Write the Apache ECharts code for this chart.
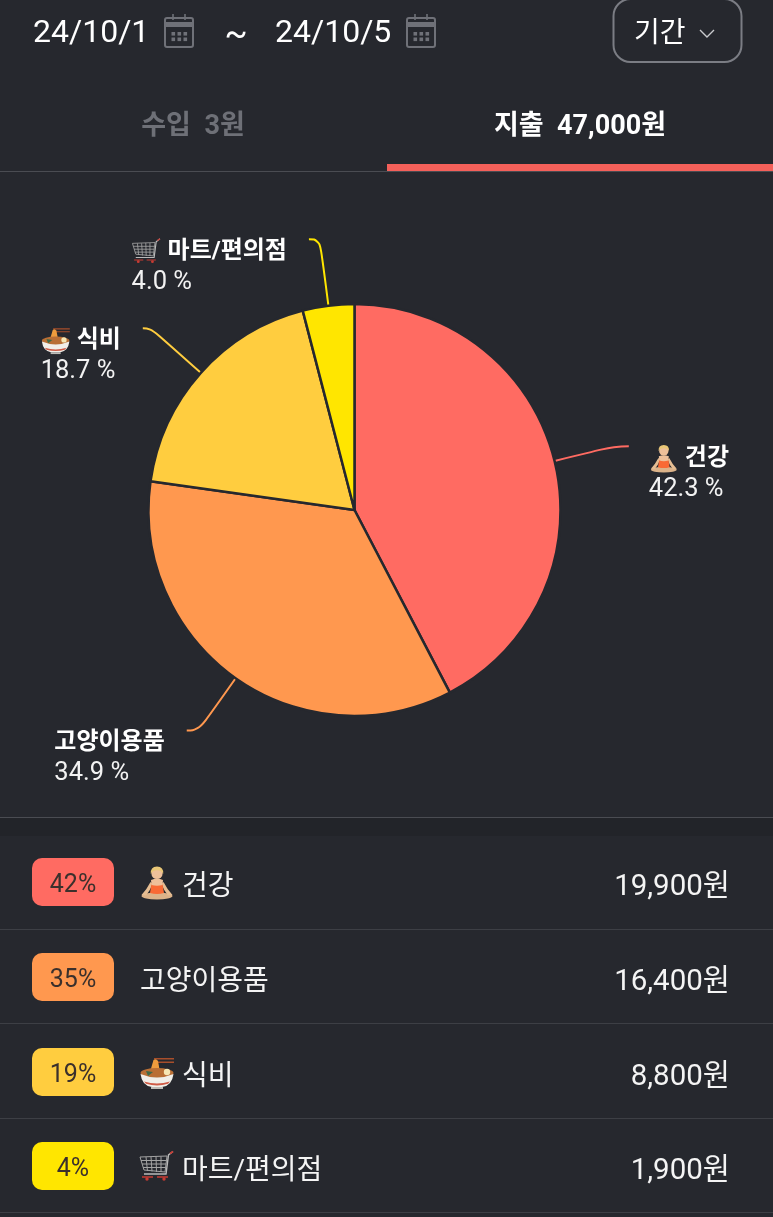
<!DOCTYPE html>
<html><head><meta charset="utf-8">
<style>html,body{margin:0;padding:0;background:#26282e}#c{width:773px;height:1217px}</style>
<script src="https://cdn.jsdelivr.net/npm/echarts@6/dist/echarts.min.js"></script></head>
<body><div id="c"></div>
<script>
const categories = ['건강','고양이용품','식비','마트/편의점'];
const amounts = [19900,16400,8800,1900];
const colors = ['#ff6b62','#ff984f','#ffcd3f','#ffe600'];
const badgeLabels = ['42%','35%','19%','4%'];
const amountLabels = ['19,900원','16,400원','8,800원','1,900원'];
const iconKeys = ['person',null,'bowl','cart'];
const lineLengths = [61,64,67,67];
const line2Lengths = [15,12,8,11];
const labelGaps = [20,22,22,22];
const dateFrom='24/10/1', dateTo='24/10/5', periodLabel='기간';
const incomeTab='수입  3원', expenseTab='지출  47,000원';

const KR="Roboto,'Noto Sans CJK KR',sans-serif";
const svg=s=>'data:image/svg+xml;charset=utf-8,'+encodeURIComponent('<svg xmlns="http://www.w3.org/2000/svg" viewBox="0 0 36 36" width="108" height="108">'+s+'</svg>');
const icons={
 person:svg('<ellipse cx="18" cy="31" rx="15.5" ry="3.4" fill="#dcb389"/><path d="M2.5 30 Q8 24 11.5 17 L13.5 19 Q11 26 7 30.5Z M33.5 30 Q28 24 24.5 17 L22.5 19 Q25 26 29 30.5Z" fill="#e6bd92"/><path d="M12.5 19 L23.5 19 L25 28 Q18 30 11 28Z" fill="#f96a35"/><path d="M12 15 Q18 12.5 24 15 L23.5 20 Q18 21.5 12.5 20Z" fill="#eec09a"/><circle cx="18" cy="8.5" r="5.6" fill="#eec09a"/><path d="M11.8 9 Q11.2 1.5 18 1.5 Q24.8 1.5 24.2 9 Q22.5 5 18 5.2 Q13.5 5 11.8 9Z" fill="#e9c777"/>'),
 bowl:svg('<path d="M15 3 h20 v1.4 h-20z M15 6.5 h20 v1.4 h-20z" fill="#a84e2b"/><path d="M14.5 5 Q17 3 19 6 L21 17 L11 17Z" fill="#ee9c3d"/><ellipse cx="18" cy="18" rx="16.5" ry="5" fill="#b96f35"/><circle cx="28" cy="17" r="3.2" fill="#f6e7b4"/><path d="M7 16 l7 1 -5 4z" fill="#3f6a4a"/><path d="M1.5 19 Q3 31 13 32 L23 32 Q33 31 34.5 19 Q18 26 1.5 19Z" fill="#f1efe9"/><path d="M5 26.5 Q18 30.5 31 26.5 L29 28.8 Q18 32 7 28.8Z" fill="#cf5b46"/><rect x="12" y="32" width="12" height="2" fill="#bdbbb6"/>'),
 cart:svg('<g fill="none" stroke="#a3a3a3" stroke-width="1"><path d="M1 8 L28 7 L26 23 L5 21Z"/><path d="M2 11.5 H27.5 M3 15 H27 M4 18.5 H26.5 M7 8 L8.5 22 M12 8 L13 22.5 M17 7.5 L17.5 23 M22 7.5 L22 23"/></g><path d="M5 25 H27 L29.5 6 L34 2.5" fill="none" stroke="#b9b9b9" stroke-width="1.4"/><path d="M31 4.5 L34 2.5" stroke="#c73b33" stroke-width="1.6"/><path d="M3 28 H14 M18 28 H29" stroke="#c73b33" stroke-width="1.4"/><circle cx="8" cy="30" r="1.7" fill="#c73b33"/><circle cx="25" cy="30" r="1.7" fill="#c73b33"/>')
};

const rich={
 name:{fontFamily:KR,fontSize:24,fontWeight:700,color:'#fff',align:'left',lineHeight:31},
 pct:{fontFamily:KR,fontSize:25.5,fontWeight:400,color:'#f2f2f2',align:'left',lineHeight:31}
};
Object.keys(icons).forEach(k=>{rich[k]={width:30,height:30,align:'left',backgroundColor:{image:icons[k]}};rich[k+'Gap']={width:6,align:'left'};});

const seriesData=categories.map((n,i)=>({name:n,value:amounts[i],itemStyle:{color:colors[i]},
  label:{distanceToLabelLine:labelGaps[i]},
  labelLine:{length:lineLengths[i],length2:line2Lengths[i],lineStyle:{color:colors[i],width:2}}}));
const totalAmount=amounts.reduce((a,b)=>a+b,0);

const g=[];
const T=(text,x,y,font,fill,align)=>g.push({type:'text',z:5,style:{text,x,y,font:font+' '+KR,fill,textAlign:align||'left',textVerticalAlign:'middle'}});
const R=(x,y,w,h,fill,r)=>g.push({type:'rect',z:3,shape:{x,y,width:w,height:h,r:r||0},style:{fill}});
function cal(x){
  const c='#6f7178';
  g.push({type:'rect',z:5,shape:{x,y:18,width:28,height:29,r:2},style:{fill:'none',stroke:c,lineWidth:2}});
  R(x,22,28,5,c);
  [x+8,x+20].forEach(a=>g.push({type:'line',z:5,shape:{x1:a,y1:14,x2:a,y2:20},style:{stroke:c,lineWidth:1.6}}));
  for(let r=0;r<2;r++)for(let q=0;q<3;q++)R(x+6.5+q*6,32+r*5.5,3.6,3.6,c);
}
T(dateFrom,33,34,'400 32px','#fff'); cal(165);
T('~',236,36,'400 34px','#fff','center');
T(dateTo,275,34,'400 32px','#fff'); cal(407);
g.push({type:'rect',z:5,shape:{x:613.5,y:-1,width:128,height:63,r:17},style:{fill:'none',stroke:'#7b7d84',lineWidth:2}});
T(periodLabel,634,35,'400 28px','#fff');
g.push({type:'polyline',z:5,shape:{points:[[700,30],[707,37],[714,30]]},style:{fill:'none',stroke:'#c9cacd',lineWidth:1.4}});
T(incomeTab,193,127,'700 27px','#6e7077','center');
T(expenseTab,580,127,'700 27px','#ffffff','center');
R(0,171,773,1,'#4a4c52');
R(387,164,386,7,'#f4605a');
R(0,817,773,1,'#4a4c52');
R(0,818,773,18,'#222429');
const rowC=[882,977,1072,1166];
const sepY=[929,1023,1118,1212];
categories.forEach((n,i)=>{
  const y=rowC[i];
  R(32,y-24,82,48,colors[i],10);
  T(badgeLabels[i],73,y+4,'400 25px','#3b302c','center');
  let nx=140;
  if(iconKeys[i]){g.push({type:'image',z:5,style:{image:icons[iconKeys[i]],x:139,y:y-17,width:36,height:36}});nx=182;}
  T(n,nx,y+6,'400 28px','#f4f4f4');
  T(amountLabels[i],730,y+6,'400 29.5px','#f4f4f4','right');
  R(0,sepY[i],773,1,'#3d3f45');
});

const chart=echarts.init(document.getElementById('c'),null,{renderer:'canvas',width:773,height:1217});
chart.setOption({
  animation:false,
  backgroundColor:'#26282e',
  graphic:{elements:g},
  series:[{
    type:'pie',center:[354.5,510],radius:[0,206],startAngle:90,clockwise:true,
    avoidLabelOverlap:false,minShowLabelAngle:0,
    itemStyle:{borderColor:'#26282e',borderWidth:2.5},
    label:{show:true,position:'outside',padding:[56,0,0,0],rich,
      formatter:p=>{const k=iconKeys[p.dataIndex];
        const pct=(p.value/totalAmount*100).toFixed(1);
        return (k?`{${k}|}{${k}Gap|}`:'')+`{name|${p.name}}\n{pct|${pct} %}`;}},
    labelLine:{show:true,smooth:0.5},
    emphasis:{disabled:true},
    data:seriesData
  }]
});
</script></body></html>
